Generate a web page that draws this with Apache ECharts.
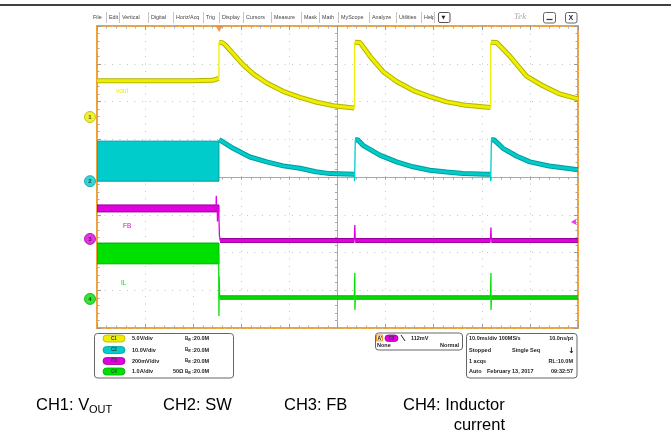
<!DOCTYPE html>
<html>
<head>
<meta charset="utf-8">
<script src="https://cdn.jsdelivr.net/npm/echarts@6/dist/echarts.min.js"></script>
<style>
html, body { margin: 0; padding: 0; background: #fff; }
#chart { width: 671px; height: 433px; }
</style>
</head>
<body>
<div id="chart"></div>
<script>
// 通道设置 (scope channel setup)
const channelNames = ['vout', 'sw', 'FB', 'IL'];
const channelColors = ['#eeee00', '#00cccc', '#e000e0', '#00e000'];
const channelEdge = ['#b4b400', '#009c9c', '#9a009a', '#00a800'];
const channelScale = [5.0, 10.0, 200, 1.0];          // V/div, V/div, mV/div, A/div
const channelOffset = [1.59, -0.11, -1.64, -3.23];   // ground level, divisions from centre
const scaleLabels = ['5.0V/div', '10.0V/div', '200mV/div', '1.0A/div'];
const triggerTime = -24.6;   // ms
const triggerLevel = 90;     // mV on CH3

// steady parts of each trace: [time ms, value], null = break
const vout = [
  [-50, 4.8], [-30, 4.8], [-26, 4.85], [-25.2, 5.0], [-24.7, 5.1], null,
  [-24.6, 9.9], [-24.0, 9.85], [-23.4, 9.6], [-21.7, 8.4], [-19.6, 6.9], [-17.5, 5.7],
  [-14.7, 4.5], [-11.3, 3.4], [-7.8, 2.6], [-4.3, 1.95], [-0.9, 1.5], [3.5, 1.2], null,
  [3.6, 9.9], [4.7, 9.85], [6.8, 8.0], [9.5, 6.0], [12.3, 4.7], [15.8, 3.5], [19.2, 2.7],
  [22.7, 2.0], [26.2, 1.6], [31.8, 1.25], null,
  [31.9, 9.9], [33.1, 9.85], [35.9, 8.0], [39.3, 5.4], [42.5, 4.2], [46, 3.1], [50, 2.4]
];
const sw = [
  [-24.6, 11.0], [-24.2, 10.9], [-21.7, 8.7], [-18.2, 6.4], [-14.7, 5.1], [-11.3, 4.05],
  [-7.8, 3.4], [-4.5, 2.5], [-1.6, 2.0], [3.5, 1.85], null,
  [3.7, 10.9], [4.2, 11.0], [5.3, 9.5], [8.8, 6.9], [12.3, 5.1], [15.7, 3.8], [19.2, 2.9],
  [22.7, 2.4], [26.1, 2.0], [31.0, 1.85], [31.8, 1.85], null,
  [32.0, 10.9], [32.5, 11.0], [34.4, 8.7], [37.3, 6.6], [40.0, 5.1], [44, 4.0], [50, 3.0]
];
const fb = [[-24.4, -8], [3.5, -8], null, [3.7, -8], [31.8, -8], null, [32.0, -8], [50, -8]];
const il = [[-24.5, 0.04], [3.5, 0.04], null, [3.7, 0.04], [31.8, 0.04], null, [32.0, 0.04], [50, 0.04]];

// fast edges and spikes, drawn thin
const voutEdges = [[-24.65, 5.1], [-24.65, 9.9], null, [3.55, 1.2], [3.55, 9.9], null, [31.85, 1.25], [31.85, 9.9]];
const swEdges = [[3.5, 1.85], [3.55, 0], [3.65, 0], [3.7, 10.9], null, [31.8, 1.85], [31.85, 0], [31.95, 0], [32.0, 10.9]];
const fbEdges = [
  [-25.25, 161], [-25.2, 228], [-25.15, 161], null, [-25.0, 161], [-24.95, 92], [-24.9, 161], null,
  [-24.7, 170], [-24.55, 20], [-24.4, -8], null,
  [3.5, -8], [3.6, 74], [3.7, -8], null, [31.8, -8], [31.9, 60], [32.0, -8]
];
const ilEdges = [
  [-24.7, 1.2], [-24.65, -0.45], [-24.6, 0.6], [-24.5, 0.04], null,
  [3.5, 0.04], [3.6, 0.69], [3.62, -0.29], [3.7, 0.04], null,
  [31.8, 0.04], [31.9, 0.69], [31.92, -0.29], [32.0, 0.04]
];
// dense switching envelopes before the trigger: [t0, t1, low, high]
const swBlock = [-50, -24.65, 0, 10.6];
const fbBlock = [-50, -24.65, 143, 180];
const ilBlock = [-50, -24.65, 0.93, 1.48];

const menuLabels = ['File', 'Edit', 'Vertical', 'Digital', 'Horiz/Acq', 'Trig', 'Display', 'Cursors',
  'Measure', 'Mask', 'Math', 'MyScope', 'Analyze', 'Utilities', 'Help'];
const captions = ['CH1: V', 'CH2: SW', 'CH3: FB', 'CH4: Inductor'];

// 换算成格 (convert to screen divisions)
const toDiv = (ch, pts) => {
  let last = -50;
  return pts.map(p => {
    if (p === null) return [last, '-'];
    last = p[0];
    return [p[0], channelOffset[ch] + p[1] / channelScale[ch]];
  });
};
const blockDiv = (ch, b) => [b[0], b[1], channelOffset[ch] + b[2] / channelScale[ch], channelOffset[ch] + b[3] / channelScale[ch], ch];

const chart = echarts.init(document.getElementById('chart'));

const traces = [vout, sw, fb, il];
const edges = [voutEdges, swEdges, fbEdges, ilEdges];
const traceWidth = [5, 5, 5, 4.5];
const traceSeries = [];
traces.forEach((t, ch) => {
  const d = toDiv(ch, t);
  traceSeries.push({
    type: 'line', data: d, showSymbol: false, symbol: 'none', animation: false, z: 3, connectNulls: false,
    lineStyle: { color: channelEdge[ch], width: traceWidth[ch], cap: 'butt', join: 'bevel' }
  });
  traceSeries.push({
    type: 'line', data: d, showSymbol: false, symbol: 'none', animation: false, z: 4, connectNulls: false,
    lineStyle: { color: channelColors[ch], width: traceWidth[ch] - 2, cap: 'butt', join: 'bevel' }
  });
  traceSeries.push({
    type: 'line', data: toDiv(ch, edges[ch]), showSymbol: false, symbol: 'none', animation: false, z: 4, connectNulls: false,
    lineStyle: { color: channelColors[ch], width: 1.3, cap: 'butt', join: 'miter' }
  });
});

const gridLine = { color: '#c4c4c4', width: 1, type: [1, 6.5] };
const edgeAxis = {
  min: -50, max: 50, interval: 10, type: 'value',
  axisLine: { show: false, onZero: false }, axisLabel: { show: false }, splitLine: { show: false },
  axisTick: { show: true, inside: true, length: 4, lineStyle: { color: '#999' } },
  minorTick: { show: true, splitNumber: 5, length: 2.5, lineStyle: { color: '#aaa' } }
};
const edgeYAxis = Object.assign({}, edgeAxis, { min: -4, max: 4, interval: 1 });

const graphics = [];
const txt = (x, y, s, style) => graphics.push({
  type: 'text', x, y, silent: true,
  style: Object.assign({ text: s, fill: '#333', font: '6px "Liberation Sans"', verticalAlign: 'middle' }, style || {})
});
const rect = (x, y, w, h, style, r) => graphics.push({
  type: 'rect', silent: true, shape: { x, y, width: w, height: h, r: r || 0 },
  style: Object.assign({ fill: 'none', stroke: '#555', lineWidth: 1 }, style || {})
});
const line = (x1, y1, x2, y2, style) => graphics.push({
  type: 'line', silent: true, shape: { x1, y1, x2, y2 },
  style: Object.assign({ stroke: '#999', lineWidth: 1 }, style || {})
});

// top rule
line(0, 5, 671, 5, { stroke: '#000', lineWidth: 1.5 });
// menu bar
const menuX = [93, 109, 122, 151, 176, 206, 222, 246, 274, 304, 322, 341, 372, 399, 424];
menuLabels.forEach((m, i) => {
  txt(menuX[i], 17.5, m, { fill: '#444', font: '5.4px "Liberation Sans"' });
  const nx = i + 1 < menuX.length ? menuX[i + 1] : 437;
  line(nx - 2.5, 12, nx - 2.5, 23, { stroke: '#c4c4c4' });
});
rect(438.5, 12.5, 11.5, 10, { fill: '#fff', stroke: '#555' }, 1.5);
txt(441.5, 17.5, '▼', { font: '5px "DejaVu Sans"', fill: '#222' });
txt(514, 17, 'Tek', { font: 'italic 9px "Liberation Serif"', fill: '#aaa' });
rect(543.5, 12.5, 12, 10.5, { fill: '#fff', stroke: '#666' }, 2);
line(546.5, 19.5, 552.5, 19.5, { stroke: '#333', lineWidth: 1.2 });
rect(565.5, 12.5, 11.5, 10.5, { fill: '#fff', stroke: '#666' }, 2);
txt(568.5, 18, 'X', { font: 'bold 7px "Liberation Sans"', fill: '#224' });

// in-screen channel labels
const labelPos = [[116, 91], [119, 160], [123, 226], [121, 283]];
channelNames.forEach((n, i) => txt(labelPos[i][0], labelPos[i][1], n, { fill: channelColors[i], font: '6.5px "Liberation Sans"' }));

// info panel
rect(94.5, 333.5, 139, 44.5, { stroke: '#666' }, 3);
rect(375.5, 333, 87, 17, { stroke: '#666' }, 3);
rect(466.5, 333.5, 110.5, 44.5, { stroke: '#666' }, 3);
const rowY = [338.5, 350, 361, 371.5];
const boldFont = 'bold 5.5px "Liberation Sans"';
scaleLabels.forEach((s, i) => {
  rect(103, rowY[i] - 3.5, 22, 7, { fill: channelColors[i], stroke: channelEdge[i], lineWidth: 0.8 }, 3.5);
  txt(114, rowY[i], 'C' + (i + 1), { font: 'bold 4.5px "Liberation Sans"', fill: '#333', align: 'center' });
  txt(132, rowY[i], s, { font: boldFont, fill: '#222' });
  txt(185, rowY[i], 'B', { font: 'bold 4.5px "Liberation Sans"', fill: '#222' });
  txt(188, rowY[i] + 1.5, 'W', { font: 'bold 3px "Liberation Sans"', fill: '#222' });
  txt(192, rowY[i], ':20.0M', { font: boldFont, fill: '#222' });
});
txt(173, rowY[3], '50Ω', { font: boldFont, fill: '#222' });
rect(376.5, 335, 6, 6, { fill: '#fde8c8', stroke: '#e89a30' });
txt(377.5, 338.3, "A'", { font: 'bold 5px "Liberation Sans"', fill: '#222' });
rect(385, 335, 13, 6.5, { fill: channelColors[2], stroke: channelEdge[2], lineWidth: 0.8 }, 3.2);
txt(391.5, 338.3, 'C3', { font: 'bold 4.5px "Liberation Sans"', fill: '#333', align: 'center' });
line(401, 335, 405, 341, { stroke: '#222', lineWidth: 1 });
txt(411, 338.3, '112mV', { font: boldFont, fill: '#222' });
txt(377, 345.2, 'None', { font: boldFont, fill: '#222' });
txt(459, 345.2, 'Normal', { font: boldFont, fill: '#222', align: 'right' });
txt(469, rowY[0], '10.0ms/div 100MS/s', { font: boldFont, fill: '#222' });
txt(573, rowY[0], '10.0ns/pt', { font: boldFont, fill: '#222', align: 'right' });
txt(469, rowY[1], 'Stopped', { font: boldFont, fill: '#222' });
txt(512, rowY[1], 'Single Seq', { font: boldFont, fill: '#222' });
txt(568, rowY[1] + 1, '↓', { font: 'bold 8px "DejaVu Sans"', fill: '#111' });
txt(469, rowY[2], '1 acqs', { font: boldFont, fill: '#222' });
txt(573, rowY[2], 'RL:10.0M', { font: boldFont, fill: '#222', align: 'right' });
txt(469, rowY[3], 'Auto', { font: boldFont, fill: '#222' });
txt(487, rowY[3], 'February 13, 2017', { font: boldFont, fill: '#222' });
txt(573, rowY[3], '09:32:57', { font: boldFont, fill: '#222', align: 'right' });

// captions under the screen
const capFont = '16.5px "Liberation Sans"';
const capX = [36, 163, 284, 403];
captions.forEach((c, i) => txt(capX[i], 405, c, { font: capFont, fill: '#000' }));
txt(89, 410, 'OUT', { font: '11px "Liberation Sans"', fill: '#000' });
txt(505, 425, 'current', { font: capFont, fill: '#000', align: 'right' });

chart.setOption({
  animation: false,
  backgroundColor: '#fff',
  grid: { left: 97, top: 26, width: 481, height: 302, show: true, borderColor: '#f0a238', borderWidth: 2, backgroundColor: '#fff' },
  xAxis: [
    {
      type: 'value', min: -50, max: 50, interval: 10,
      axisLine: { onZero: true, lineStyle: { color: '#a8a8a8', width: 1 } },
      axisTick: { show: true, length: 3, lineStyle: { color: '#a8a8a8' } },
      minorTick: { show: true, splitNumber: 5, length: 2.5, lineStyle: { color: '#a8a8a8' } },
      axisLabel: { show: false },
      splitLine: { show: true, lineStyle: gridLine }
    },
    Object.assign({}, edgeAxis, { position: 'top' }),
    Object.assign({}, edgeAxis, { position: 'bottom' })
  ],
  yAxis: [
    {
      type: 'value', min: -4, max: 4, interval: 1,
      axisLine: { onZero: true, lineStyle: { color: '#a8a8a8', width: 1 } },
      axisTick: { show: true, length: 3, lineStyle: { color: '#a8a8a8' } },
      minorTick: { show: true, splitNumber: 5, length: 2.5, lineStyle: { color: '#a8a8a8' } },
      axisLabel: { show: false },
      splitLine: { show: true, lineStyle: gridLine }
    },
    Object.assign({}, edgeYAxis, { position: 'left' }),
    Object.assign({}, edgeYAxis, { position: 'right' })
  ],
  series: [
    {
      type: 'custom', z: 2, clip: true,
      data: [blockDiv(1, swBlock), blockDiv(2, fbBlock), blockDiv(3, ilBlock)],
      renderItem: (params, api) => {
        const ch = api.value(4);
        const p0 = api.coord([api.value(0), api.value(3)]);
        const p1 = api.coord([api.value(1), api.value(2)]);
        return {
          type: 'rect',
          shape: { x: p0[0], y: p0[1], width: p1[0] - p0[0], height: p1[1] - p0[1] },
          style: { fill: channelColors[ch], stroke: channelEdge[ch], lineWidth: 1 }
        };
      }
    },
    ...traceSeries,
    {
      // channel ground markers
      type: 'scatter', clip: false, z: 6, symbol: 'circle', symbolSize: 11, symbolOffset: [-7, 0],
      data: channelOffset.map((o, i) => ({
        value: [-50, o],
        itemStyle: { color: channelColors[i], borderColor: channelEdge[i], borderWidth: 1 },
        label: { show: true, formatter: String(i + 1), position: 'inside', fontSize: 6, fontWeight: 'bold', color: '#222' }
      }))
    },
    {
      // trigger position
      type: 'scatter', clip: false, z: 6, symbol: 'triangle', symbolRotate: 180, symbolSize: [7, 6], symbolOffset: [0, 3],
      itemStyle: { color: '#f08020' },
      data: [[triggerTime, 4]]
    },
    {
      // trigger level
      type: 'scatter', clip: false, z: 6, symbol: 'arrow', symbolRotate: 90, symbolSize: [5, 6], symbolOffset: [-7, 0],
      itemStyle: { color: channelColors[2] },
      data: [[50, channelOffset[2] + triggerLevel / channelScale[2]]]
    }
  ],
  graphic: graphics
});
</script>
</body>
</html>
